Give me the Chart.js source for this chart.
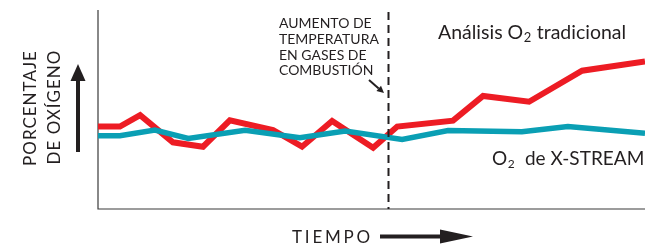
<!DOCTYPE html>
<html>
<head>
<meta charset="utf-8">
<script src="https://cdn.jsdelivr.net/npm/chart.js@4/dist/chart.umd.min.js"></script>
<style>
  html, body { margin: 0; padding: 0; background: #fff; }
  canvas { display: block; }
</style>
</head>
<body>
<canvas id="grafico" width="645" height="244"></canvas>
<script>
// Datos (tiempo 0-100, porcentaje de oxígeno 0-100)
const timeTraditional = [0, 4.0, 7.7, 13.7, 19.2, 24.1, 32.0, 37.3, 42.8, 50.3, 54.7, 64.9, 70.4, 78.8, 88.5, 100];
const o2Traditional = [41.4, 41.4, 47.2, 33.5, 31.3, 44.6, 39.7, 31.3, 44.2, 30.8, 41.4, 44.4, 56.8, 53.9, 69.5, 74.1];

const timeXStream = [0, 4.0, 10.4, 16.5, 26.9, 36.9, 45.2, 55.6, 64.0, 77.5, 85.9, 100];
const o2XStream = [36.8, 36.8, 39.7, 35.5, 39.5, 35.8, 39.2, 35.0, 39.4, 38.8, 41.4, 38.0];

// Momento del aumento de temperatura
const eventTime = 53.0;

// Textos
const seriesLabels = ['Análisis O₂ tradicional', 'O₂ de X-STREAM'];
const annotationLines = ['AUMENTO DE', 'TEMPERATURA', 'EN GASES DE', 'COMBUSTIÓN'];
const yAxisLines = ['PORCENTAJE', 'DE OXÍGENO'];
const xAxisLabel = 'TIEMPO';

const RED = '#ed1c24';
const BLUE = '#0a9fb4';
const INK = '#231f20';
const FONT = '"Lato", "Open Sans", sans-serif';

const toPoints = (xs, ys) => xs.map((x, i) => ({ x: x, y: ys[i] }));

// escribe "O" con subíndice "2" dentro de un texto
function drawWithSub(ctx, text, x, y, size) {
    const parts = text.split('₂');
    ctx.font = size + 'px ' + FONT;
    ctx.fillText(parts[0], x, y);
    x += ctx.measureText(parts[0]).width;
    if (parts.length > 1) {
        ctx.font = Math.round(size * 0.65) + 'px ' + FONT;
        ctx.fillText('2', x + 0.5, y + 3);
        x += ctx.measureText('2').width + 1;
        ctx.font = size + 'px ' + FONT;
        ctx.fillText(parts[1], x, y);
    }
}

function arrow(ctx, x1, y1, x2, y2, shaft, headLen, headHalf) {
    const ang = Math.atan2(y2 - y1, x2 - x1);
    const bx = x2 - Math.cos(ang) * headLen;
    const by = y2 - Math.sin(ang) * headLen;
    ctx.save();
    ctx.strokeStyle = INK;
    ctx.fillStyle = INK;
    ctx.lineWidth = shaft;
    ctx.beginPath();
    ctx.moveTo(x1, y1);
    ctx.lineTo(bx, by);
    ctx.stroke();
    ctx.beginPath();
    ctx.moveTo(x2, y2);
    ctx.lineTo(bx - Math.sin(ang) * headHalf, by + Math.cos(ang) * headHalf);
    ctx.lineTo(bx + Math.sin(ang) * headHalf, by - Math.cos(ang) * headHalf);
    ctx.closePath();
    ctx.fill();
    ctx.restore();
}

// ejes y rótulos dibujados a mano
const decor = {
    id: 'decor',
    beforeDatasetsDraw(chart) {
        const { ctx, chartArea: a } = chart;
        ctx.save();
        ctx.strokeStyle = '#3a3a3a';
        ctx.lineWidth = 1.2;
        ctx.beginPath();
        ctx.moveTo(a.left, a.top);
        ctx.lineTo(a.left, a.bottom);
        ctx.lineTo(a.right, a.bottom);
        ctx.stroke();
        ctx.restore();
    },
    afterDatasetsDraw(chart) {
        const { ctx, chartArea: a } = chart;
        const xs = chart.scales.x;

        // línea discontinua del evento
        const ex = Math.round(xs.getPixelForValue(eventTime)) + 0.5;
        ctx.save();
        ctx.strokeStyle = INK;
        ctx.lineWidth = 2;
        ctx.setLineDash([8, 5]);
        ctx.beginPath();
        ctx.moveTo(ex, a.top + 2);
        ctx.lineTo(ex, a.bottom);
        ctx.stroke();
        ctx.restore();

        ctx.save();
        ctx.fillStyle = INK;
        ctx.textBaseline = 'alphabetic';

        // anotación
        ctx.font = '14px ' + FONT;
        annotationLines.forEach((t, i) => ctx.fillText(t, 279, 28 + i * 15.8));
        arrow(ctx, 369, 80, 384, 93, 2, 7, 3.5);

        // nombres de las series
        drawWithSub(ctx, seriesLabels[0], 438, 39, 19.5);
        drawWithSub(ctx, seriesLabels[1].replace(' de', '  de'), 492, 165, 19);

        // eje y
        ctx.save();
        ctx.rotate(-Math.PI / 2);
        ctx.font = '17px ' + FONT;
        ctx.letterSpacing = '1px';
        ctx.textAlign = 'center';
        ctx.fillText(yAxisLines[0], -108, 36);
        ctx.fillText(yAxisLines[1], -107, 60);
        ctx.restore();
        arrow(ctx, 78, 152, 78, 64, 4, 17, 7.5);

        // eje x
        ctx.font = '17px ' + FONT;
        ctx.letterSpacing = '2.8px';
        ctx.fillText(xAxisLabel, 292, 243);
        ctx.letterSpacing = '0px';
        arrow(ctx, 380, 236.5, 473, 236.5, 4, 33, 7);
        ctx.restore();
    }
};

const chart = new Chart(document.getElementById('grafico').getContext('2d'), {
    type: 'line',
    data: {
        datasets: [{
            label: seriesLabels[1],
            data: toPoints(timeXStream, o2XStream),
            borderColor: BLUE,
            borderWidth: 5.5,
            tension: 0,
            pointRadius: 0,
            fill: false
        }, {
            label: seriesLabels[0],
            data: toPoints(timeTraditional, o2Traditional),
            borderColor: RED,
            borderWidth: 6,
            tension: 0,
            pointRadius: 0,
            fill: false
        }]
    },
    options: {
        responsive: false,
        animation: false,
        devicePixelRatio: 1,
        layout: { padding: { left: 98, right: 0, top: 10, bottom: 35 } },
        elements: { line: { borderJoinStyle: 'miter', borderCapStyle: 'butt' } },
        scales: {
            x: { type: 'linear', min: 0, max: 100, display: false },
            y: { min: 0, max: 100, display: false }
        },
        plugins: {
            legend: { display: false },
            tooltip: { enabled: false }
        }
    },
    plugins: [decor]
});
</script>
</body>
</html>
